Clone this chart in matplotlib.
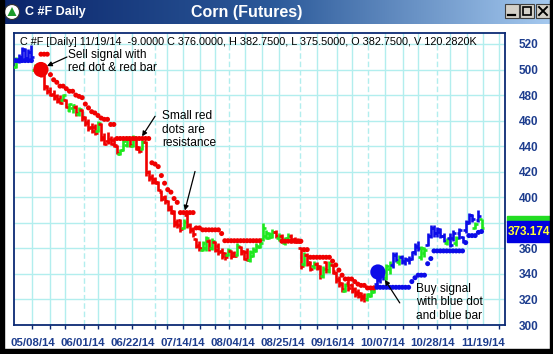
import numpy as np
import matplotlib
matplotlib.use("Agg")
import matplotlib.pyplot as plt
from matplotlib.collections import LineCollection
from matplotlib.patches import Rectangle, Circle, Polygon
from matplotlib.colors import LinearSegmentedColormap

plt.rcParams['font.family'] = ['Liberation Sans', 'DejaVu Sans']

# ---------------- data ----------------
opens = [502, 507, 510, 515, 509, 514, 500, 499, 501, 497,
         487, 483, 481, 479, 477, 476, 476, 468, 470, 471,
         465, 468, 463, 459, 455, 455, 452, 457, 447, 444,
         446, 445, 440, 434, 437, 441, 446, 440, 446, 438,
         438, 443, 420, 416, 414, 412, 404, 400, 397, 392,
         388, 381, 382, 376, 386, 378, 375, 367, 363, 359,
         360, 366, 360, 365, 362, 358, 356, 355, 358, 356,
         355, 361, 358, 357, 351, 354, 358, 361, 367, 370,
         368, 369, 373, 368, 370, 364, 366, 370, 367, 366,
         360, 348, 355, 349, 346, 348, 346, 338, 349, 342,
         347, 341, 336, 333, 327, 333, 331, 328, 326, 325,
         323, 320, 323, 326, 332, 335, 339, 337, 344, 347,
         355, 349, 353, 349, 351, 352, 357, 361, 353, 356,
         363, 370, 376, 372, 373, 370, 364, 368, 368, 364,
         372, 369, 374, 381, 386, 376, 382, 382.75]
highs = [510, 512, 518, 517, 516, 519, 504, 503, 502, 498,
         488, 486, 484, 481, 480, 481, 477, 474, 473, 472,
         471, 469, 464, 461, 458, 457, 460, 458, 450, 451,
         448, 447, 441, 438, 446, 448, 447, 449, 447, 440,
         445, 444, 421, 418, 416, 413, 406, 402, 398, 394,
         390, 383, 383, 383, 388, 380, 377, 368, 366, 366,
         370, 367, 368, 366, 364, 360, 357, 360, 359, 358,
         364, 362, 359, 360, 359, 361, 364, 366, 380, 374,
         373, 375, 374, 372, 371, 369, 372, 371, 369, 368,
         361, 357, 356, 350, 350, 349, 347, 346, 350, 350,
         348, 342, 338, 334, 333, 335, 333, 330, 328, 326,
         325, 325, 328, 331, 338, 341, 342, 348, 350, 357,
         357, 355, 355, 353, 354, 358, 364, 366, 362, 361,
         372, 378, 378, 377, 376, 372, 368, 372, 374, 370,
         376, 370, 382, 388, 387, 381, 390, 382.75]
lows = [501, 505, 506, 507, 507, 508, 498, 497, 494, 484,
        481, 479, 476, 474, 473, 475, 470, 467, 466, 464,
        464, 460, 456, 452, 450, 449, 451, 444, 441, 442,
        441, 439, 434, 433, 436, 439, 439, 439, 437, 435,
        437, 417, 413, 410, 410, 405, 397, 395, 389, 387,
        377, 376, 373, 375, 376, 372, 369, 360, 358, 358,
        358, 358, 359, 357, 355, 352, 351, 354, 352, 353,
        354, 355, 351, 350, 349, 353, 357, 360, 366, 367,
        367, 368, 368, 366, 364, 363, 365, 364, 364, 364,
        344, 346, 346, 342, 344, 343, 336, 337, 341, 341,
        340, 333, 330, 326, 326, 327, 325, 322, 321, 319,
        318, 319, 322, 325, 330, 333, 335, 335, 340, 345,
        349, 347, 348, 347, 348, 351, 355, 358, 351, 353,
        362, 368, 369, 369, 368, 365, 363, 361, 366, 362,
        367, 364, 372, 379, 381, 375, 381, 375.5]
closes = [508, 510, 516, 509, 514, 510, 503, 502, 496, 486,
          483, 480, 478, 475, 474, 480, 471, 473, 472, 466,
          469, 462, 458, 454, 452, 450, 458, 446, 442, 443,
          442, 441, 435, 437, 444, 446, 441, 447, 439, 436,
          443, 420, 415, 412, 411, 406, 399, 397, 391, 389,
          379, 378, 375, 381, 378, 374, 371, 362, 360, 364,
          368, 360, 366, 359, 357, 354, 353, 359, 354, 354,
          362, 356, 352, 351, 357, 359, 362, 364, 376, 372,
          371, 373, 370, 370, 366, 368, 370, 366, 365, 365,
          346, 355, 348, 344, 348, 345, 338, 344, 343, 348,
          342, 335, 332, 328, 331, 329, 327, 324, 323, 321,
          320, 324, 327, 330, 336, 339, 337, 346, 348, 355,
          351, 353, 350, 352, 352, 357, 362, 360, 360, 359,
          370, 376, 372, 375, 370, 366, 367, 363, 372, 368,
          374, 366, 380, 386, 383, 379, 385, 376]
bar_colors = ("gbbbbb" "gg" "rrrrrrr" "g" "rggrgrrrrr" "g" "rrrrrr" "ggg"
              "rgrrg" "rrrrrrrrrrrr" "g" "rrrrr" "ggrg" "rrrr" "grrgrrr"
              "gggggggg" "rgrggrrrr" "grrgrrgrg" "rrrr" "g" "rrrrrr" "ggg"
              "bbb" "gg" "bbgbbbbbb" "gg" "bbbbbb" "gbbgbbbbbgbg")
nan = float('nan')
sar = [507, 507, 507, 507, 507, 507, nan, nan, 512, 512,
       512, 496, 492, 490, 487, 487, 485, 483, 483, 480,
       479, 478, 473, 470, 467, 466, 464, 462, 461, 461,
       457, 457, 446, 446, 446, 446, 446, 446, 446, 446,
       446, 446, 446, 427, 426, 424, 417, 411, 406, 404,
       399, 396, 388, 388, 388, 388, 388, 376, 376, 374.5,
       374.5, 374.5, 374.5, 374.5, 374.5, 371.6, 366, 366, 366, 366,
       366, 366, 366, 366, 366, 366, 366, 366, nan, nan,
       nan, nan, nan, nan, 365.6, 365.6, 365.6, 365.6, 365.6, 365.6,
       365.6, 359, 359, 353, 353, 353, 353, 353, 353, 353,
       350, 347, 343, 339, 336, 336, 336, 334, 332, 331,
       331, 329, 329, 329, 329.5, 329.5, 329.5, 329.5, 329.5, 329.5,
       329.5, 329.5, 329.5, 329.5, 329.5, 334, 337, 339, 339, 339,
       348, 352, 358, 358, 358, 358, 358, 358, 358, 358,
       358, 358, 364.5, 370, 370, 370, 372.5, 373.2]
sar_trend = "bbbbbb" + "r" * 108 + "b" * 34
signal_idx = [8, 114.3]
signal_price = [500, 341.5]
signal_trend = ["r", "b"]

date_labels = ["05/08/14", "06/01/14", "06/22/14", "07/14/14", "08/04/14",
               "08/25/14", "09/16/14", "10/07/14", "10/28/14", "11/19/14"]
date_pos = [5.6, 21.3, 37.0, 52.8, 68.6, 84.2, 100.0, 115.9, 131.6, 147.4]
ytick_vals = [300, 320, 340, 360, 400, 420, 440, 460, 480, 500, 520]
last_label = "373.174"
header = ("C #F [Daily] 11/19/14  -9.0000 C 376.0000, H 382.7500, "
          "L 375.5000, O 382.7500, V 120.2820K")

# ---------------- layout helpers ----------------
W, H = 553, 354
def fx(px): return px / W
def fy(py): return 1 - py / H

NAVY = '#0c2a74'
LABEL = '#1d3d8e'
GRID = '#b2eeee'
COL = {'r': '#f00000', 'g': '#1ee81e', 'b': '#0c0ce8'}

fig = plt.figure(figsize=(W / 100, H / 100), dpi=100)
fig.patch.set_facecolor('white')

ax = fig.add_axes([fx(14), fy(325), fx(505) - fx(14), fy(33) - fy(325)])
ax.set_xlim(-0.5, 154.4)
ax.set_ylim(300, 528.6)
ax.set_facecolor('white')

# grid
for y in range(320, 521, 20):
    ax.axhline(y, color=GRID, lw=1.0, zorder=0)
weekly = [5.2, 10.9, 15.6, 26, 31.4, 36.7, 47.8, 52.9, 58.2, 62.9, 72.4,
          77.7, 83, 95, 101.3, 106, 116.5, 122.2, 127, 137, 142.4, 147.4, 152.5]
monthly = [21.5, 44, 67.3, 89.7, 111.2, 132.8]
for x in weekly:
    ax.axvline(x, color=GRID, lw=1.0, zorder=0)
for x in monthly:
    ax.axvline(x, color=GRID, lw=1.0, ls=(0, (4, 2)), zorder=0)

# OHLC bars
n = len(closes)
segs, cols = [], []
for i in range(n):
    c = COL[bar_colors[i]]
    segs.append([(i, lows[i]), (i, highs[i])])
    segs.append([(i - 0.9, opens[i]), (i, opens[i])])
    segs.append([(i, closes[i]), (i + 0.9, closes[i])])
    cols += [c, c, c]
ax.add_collection(LineCollection(segs, colors=cols, linewidths=1.9,
                                 capstyle='butt', zorder=3))

# SAR dots
ax.scatter(np.arange(n), sar, c=[COL[t] for t in sar_trend], s=13,
           linewidths=0, zorder=4)
# signal dots
ax.scatter(signal_idx, signal_price, c=[COL[t] for t in signal_trend],
           s=120, linewidths=0, zorder=5)

# spines & ticks
for sp in ax.spines.values():
    sp.set_color(NAVY)
    sp.set_linewidth(1.3)
ax.yaxis.tick_right()
ax.set_yticks(ytick_vals)
ax.set_yticklabels([str(v) for v in ytick_vals], fontweight='bold',
                   fontsize=8.5, color=LABEL)
ax.tick_params(axis='y', length=0, pad=10)
ax.set_xticks(date_pos)
ax.set_xticklabels(date_labels, fontweight='bold', fontsize=8.2, color=LABEL)
ax.tick_params(axis='x', which='major', length=0, pad=9)
ax.set_xticks(weekly + monthly, minor=True)
ax.tick_params(axis='x', which='minor', length=3, color=NAVY, width=1)

# header text
ax.text(0.012, 0.985, header, transform=ax.transAxes, va='top', ha='left',
        fontsize=7.8, color='black', zorder=6)

# annotations
arrow = dict(arrowstyle='-|>', color='black', lw=0.9, mutation_scale=7,
             shrinkA=0, shrinkB=0)
ax.text(16.5, 516, "Sell signal with\nred dot & red bar", fontsize=8.6,
        va='top', ha='left', linespacing=1.15, zorder=6)
ax.annotate('', xy=(9.9, 502.7), xytext=(16.2, 509.8), arrowprops=arrow, zorder=6)
ax.text(46.2, 468, "Small red\ndots are\nresistance", fontsize=8.6,
        va='top', ha='left', linespacing=1.15, zorder=6)
ax.annotate('', xy=(39.9, 447.7), xytext=(44, 463.4), arrowprops=arrow, zorder=6)
ax.annotate('', xy=(53.4, 389.6), xytext=(56.6, 420.2), arrowprops=arrow, zorder=6)
ax.text(126.3, 333, "Buy signal\nwith blue dot\nand blue bar", fontsize=8.6,
        va='top', ha='left', linespacing=1.15, zorder=6)
ax.annotate('', xy=(116.5, 335.4), xytext=(121.2, 317.3), arrowprops=arrow, zorder=6)

# last-value boxes on the right
fig.patches.append(Rectangle((fx(507), fy(222)), fx(551) - fx(507), fy(216) - fy(222),
                             transform=fig.transFigure, color='#22dd22', zorder=5))
fig.patches.append(Rectangle((fx(507), fy(242)), fx(551) - fx(507), fy(221) - fy(242),
                             transform=fig.transFigure, color='#0000e0', zorder=5))
fig.text(fx(529), fy(232), last_label, color='#ffff33', fontsize=8.5,
         fontweight='bold', ha='center', va='center', zorder=6)

# title bar
tb = fig.add_axes([0, fy(24), 1, 24 / H])
grad = np.linspace(0, 1, 256).reshape(1, -1)
cmap = LinearSegmentedColormap.from_list('tb', ['#0a246a', '#2c5a9a', '#a6caf0'])
tb.imshow(grad, aspect='auto', cmap=cmap, extent=[0, W, 24, 0])
tb.set_xlim(0, W)
tb.set_ylim(24, 0)
tb.axis('off')
tb.add_patch(Circle((12, 12), 7.5, facecolor='white', edgecolor='#333333', lw=0.8))
tb.add_patch(Polygon([[7.5, 16], [16.5, 16], [12, 7]], closed=True, facecolor='#1a9a2a'))
tb.text(25, 12.5, "C #F Daily", color='white', fontsize=9, fontweight='bold',
        va='center', ha='left')
tb.text(247, 12.5, "Corn (Futures)", color='white', fontsize=11.5,
        fontweight='bold', va='center', ha='center')
for bx in [505, 520, 536]:
    tb.add_patch(Rectangle((bx, 4), 14, 14, facecolor='#d4d0c8',
                           edgecolor='#404040', lw=0.8))
tb.plot([508, 515], [15, 15], color='black', lw=1.6)
tb.add_patch(Rectangle((523, 7), 8, 8, facecolor='none', edgecolor='black', lw=1.2))
tb.plot([539, 547], [7, 15], color='black', lw=1.4)
tb.plot([539, 547], [15, 7], color='black', lw=1.4)

# window border
for (x0, y0, w, h) in [(0, 0, 4, H), (W - 3, 0, 3, H), (0, H - 5, W, 5)]:
    fig.patches.append(Rectangle((fx(x0), fy(y0 + h)), w / W, h / H,
                                 transform=fig.transFigure, color='black', zorder=10))

fig.savefig("out.png", dpi=100)
